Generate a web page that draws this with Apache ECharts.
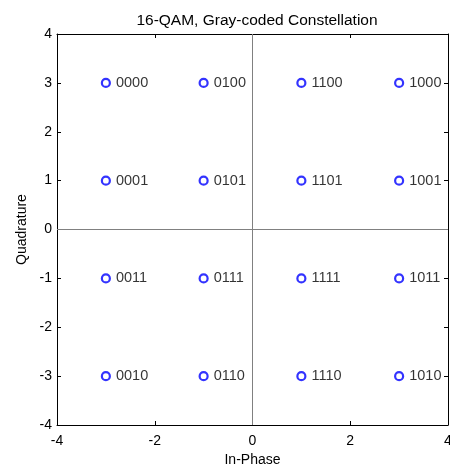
<!DOCTYPE html>
<html>
<head>
<meta charset="utf-8">
<script src="https://cdn.jsdelivr.net/npm/echarts@6/dist/echarts.min.js"></script>
<style>
  html, body { margin: 0; padding: 0; background: #fff; }
  #chart { width: 450px; height: 470px; }
</style>
</head>
<body>
<div id="chart"></div>
<script>
  // constellation points (in-phase, quadrature) and their gray-code labels
  var inPhase = [-3, -1, 1, 3, -3, -1, 1, 3, -3, -1, 1, 3, -3, -1, 1, 3];
  var quadrature = [3, 3, 3, 3, 1, 1, 1, 1, -1, -1, -1, -1, -3, -3, -3, -3];
  var codes = ['0000', '0100', '1100', '1000',
               '0001', '0101', '1101', '1001',
               '0011', '0111', '1111', '1011',
               '0010', '0110', '1110', '1010'];

  var points = [];
  inPhase.forEach(function (x, i) {
    points.push({ value: [x, quadrature[i]], name: codes[i] });
  });

  var font = 'Liberation Sans, Arial, sans-serif';
  var tickStyle = { show: true, inside: true, length: 4, lineStyle: { color: '#000', width: 1 } };

  var chart = echarts.init(document.getElementById('chart'));
  var option = {
    animation: false,
    title: {
      text: '16-QAM, Gray-coded Constellation',
      left: 252, top: 8, textAlign: 'center',
      textStyle: { fontFamily: font, fontSize: 15.5, fontWeight: 'normal', color: '#000' }
    },
    grid: { left: 57, right: 2, top: 34, bottom: 45, outerBoundsMode: 'none' },
    xAxis: [{
      type: 'value', min: -4, max: 4, interval: 2, position: 'bottom',
      name: 'In-Phase', nameLocation: 'middle', nameGap: 27,
      nameTextStyle: { fontFamily: font, fontSize: 14, color: '#000' },
      axisLine: { show: true, onZero: false, lineStyle: { color: '#000', width: 1 } },
      axisTick: tickStyle,
      axisLabel: { fontFamily: font, fontSize: 14, color: '#000', margin: 9 },
      splitLine: { show: false }
    }, {
      type: 'value', min: -4, max: 4, interval: 2, position: 'top',
      axisLine: { show: true, onZero: false, lineStyle: { color: '#000', width: 1 } },
      axisTick: tickStyle, axisLabel: { show: false }, splitLine: { show: false }
    }],
    yAxis: [{
      type: 'value', min: -4, max: 4, interval: 1, position: 'left',
      name: 'Quadrature', nameLocation: 'middle', nameGap: 28,
      nameTextStyle: { fontFamily: font, fontSize: 14, color: '#000' },
      axisLine: { show: true, onZero: false, lineStyle: { color: '#000', width: 1 } },
      axisTick: tickStyle,
      axisLabel: { fontFamily: font, fontSize: 14, color: '#000', margin: 5 },
      splitLine: { show: false }
    }, {
      type: 'value', min: -4, max: 4, interval: 1, position: 'right',
      axisLine: { show: true, onZero: false, lineStyle: { color: '#000', width: 1 } },
      axisTick: tickStyle, axisLabel: { show: false }, splitLine: { show: false }
    }],
    series: [{
      type: 'scatter',
      data: points,
      symbol: 'circle',
      symbolSize: 8,
      itemStyle: { color: '#fff', borderColor: '#0000ff', borderWidth: 2.2 },
      label: {
        show: true, position: 'right', distance: 5,
        formatter: function (p) { return p.name; },
        fontFamily: font, fontSize: 14.5, color: '#000'
      },
      markLine: {
        silent: true, symbol: 'none',
        label: { show: false },
        lineStyle: { color: '#808080', width: 1, type: 'solid' },
        data: [{ xAxis: 0 }, { yAxis: 0 }]
      },
      z: 3
    }]
  };
  chart.setOption(option);
  window.addEventListener('resize', function () {
    chart.resize();
  });
</script>
</body>
</html>
